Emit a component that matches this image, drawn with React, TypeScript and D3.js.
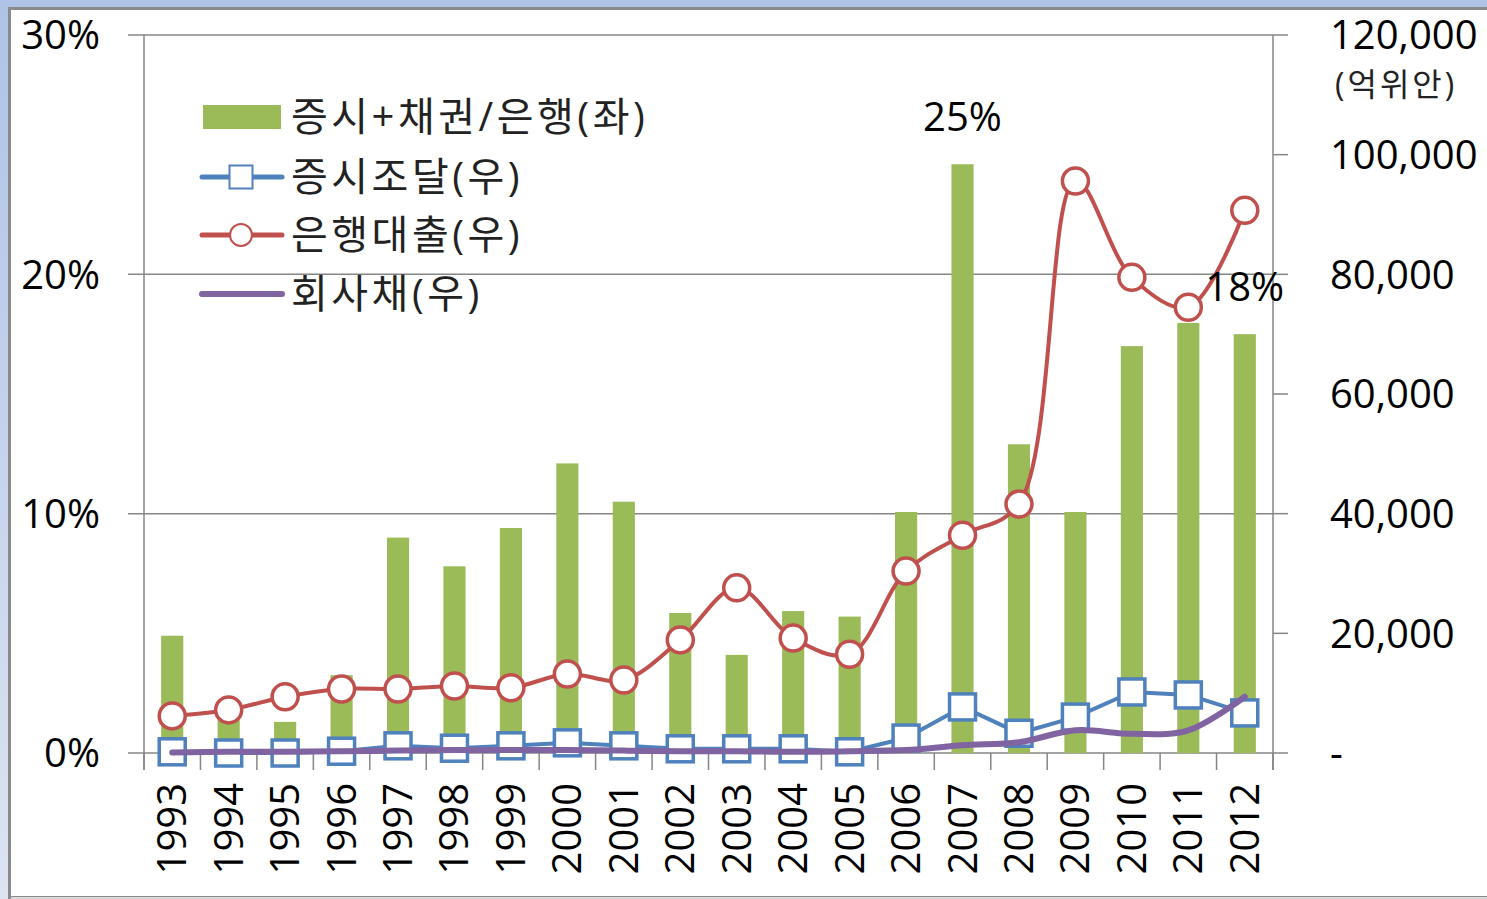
import React from 'react';
import * as d3 from 'd3';

const years = ['1993','1994','1995','1996','1997','1998','1999','2000','2001','2002','2003','2004','2005','2006','2007','2008','2009','2010','2011','2012'];
// 증시+채권/은행 (%), left axis
const ratio = [4.9, 1.6, 1.3, 3.25, 9.0, 7.8, 9.4, 12.1, 10.5, 5.85, 4.1, 5.93, 5.7, 10.07, 24.6, 12.9, 10.07, 17.0, 17.97, 17.5];
// 증시조달 (억위안), right axis
const stock = [200, 0, 0, 300, 1200, 800, 1200, 1700, 1200, 700, 700, 700, 200, 2500, 7700, 3300, 6000, 10200, 9700, 6700];
// 은행대출 (억위안), right axis
const bank = [6200, 7200, 9400, 10700, 10700, 11200, 10900, 13200, 12200, 18900, 27600, 19200, 16500, 30400, 36400, 41600, 95600, 79500, 74500, 90700];
// 회사채 (억위안), right axis
const bond = [100, 200, 200, 300, 400, 500, 500, 500, 400, 300, 300, 200, 300, 500, 1300, 1800, 3800, 3200, 3800, 9400];

const leftTicks = [0, 10, 20, 30];
const rightTicks = [0, 20000, 40000, 60000, 80000, 100000, 120000];
const labeledYears = ['2007', '2012'];
const legendLabels = ['증시+채권/은행(좌)', '증시조달(우)', '은행대출(우)', '회사채(우)'];
const unitLabel = '(억위안)';

const GREEN = '#9bbb59';
const BLUE = '#4f81bd';
const RED = '#c0504d';
const PURPLE = '#8064a2';
const GRID = '#868686';
const FONT = '"Open Sans", "Noto Sans CJK KR", sans-serif';

export default function App() {
  const W = 1487, H = 899;
  const left = 144, right = 1273, top = 35, bottom = 753;
  const x = d3.scaleBand<string>().domain(years).range([left, right]).padding(0);
  const bw = x.bandwidth();
  const cx = (y: string) => (x(y) as number) + bw / 2;
  const yL = d3.scaleLinear().domain([0, 30]).range([bottom, top]);
  const yR = d3.scaleLinear().domain([0, 120000]).range([bottom, top]);
  const barW = bw / 2.55;

  const lineLinear = d3.line<number>().x((_, i) => cx(years[i])).y(d => yR(d));
  const lineSmooth = d3.line<number>().x((_, i) => cx(years[i])).y(d => yR(d)).curve(d3.curveCatmullRom.alpha(0.5));

  const fmtR = (v: number) => (v === 0 ? '-' : d3.format(',')(v));

  const boundaries = years.map(y => x(y) as number).concat([right]);
  const legY = [117, 177, 235, 294];

  return (
    <div style={{ position: 'fixed', left: 0, top: 0, width: W, height: H }}>
      <svg width={W} height={H} style={{ display: 'block' }} fontFamily={FONT}>
        <defs>
          <linearGradient id="bg" x1="0" y1="0" x2="0" y2="1">
            <stop offset="0" stopColor="#aec3e6" />
            <stop offset="1" stopColor="#dce4f2" />
          </linearGradient>
        </defs>
        <rect x={0} y={0} width={W} height={H} fill="url(#bg)" />
        <rect x={9.5} y={8.5} width={W} height={H - 10} fill="#ffffff" stroke="#8a8a8a" strokeWidth={3} />
        <line x1={11} x2={W} y1={898} y2={898} stroke="#d9d9d9" strokeWidth={2} />

        {/* gridlines */}
        {leftTicks.map(t => (
          <line key={'g' + t} x1={left - 16} x2={right} y1={yL(t)} y2={yL(t)} stroke={GRID} strokeWidth={1.5} />
        ))}
        {/* left axis */}
        <line x1={left} x2={left} y1={top} y2={bottom + 17} stroke={GRID} strokeWidth={1.5} />
        {/* right axis */}
        <line x1={right} x2={right} y1={top} y2={bottom + 17} stroke={GRID} strokeWidth={1.5} />
        {rightTicks.map(t => (
          <line key={'rt' + t} x1={right} x2={right + 15} y1={yR(t)} y2={yR(t)} stroke={GRID} strokeWidth={1.5} />
        ))}
        {/* x ticks */}
        {boundaries.map((b, i) => (
          <line key={'xt' + i} x1={b} x2={b} y1={bottom} y2={bottom + 17} stroke={GRID} strokeWidth={1.5} />
        ))}

        {/* bars */}
        {years.map((y, i) => (
          <rect key={'b' + y} x={cx(y) - barW / 2} y={yL(ratio[i])} width={barW} height={bottom - yL(ratio[i])} fill={GREEN} />
        ))}

        {/* blue line */}
        <path d={lineLinear(stock) as string} fill="none" stroke={BLUE} strokeWidth={4} strokeLinejoin="round" />
        {years.map((y, i) => (
          <rect key={'s' + y} x={cx(y) - 13} y={yR(stock[i]) - 13} width={26} height={26} fill="#fff" stroke={BLUE} strokeWidth={3.5} />
        ))}

        {/* red line */}
        <path d={lineSmooth(bank) as string} fill="none" stroke={RED} strokeWidth={4} strokeLinejoin="round" />
        {years.map((y, i) => (
          <circle key={'c' + y} cx={cx(y)} cy={yR(bank[i])} r={13} fill="#fff" stroke={RED} strokeWidth={3.5} />
        ))}

        {/* purple line */}
        <path d={lineSmooth(bond) as string} fill="none" stroke={PURPLE} strokeWidth={6} strokeLinecap="round" strokeLinejoin="round" />

        {/* left labels */}
        {leftTicks.map(t => (
          <text key={'ll' + t} x={100} y={yL(t)} dy="0.36em" textAnchor="end" fontSize={40} fill="#000">{t + '%'}</text>
        ))}
        {/* right labels */}
        {rightTicks.map(t => (
          <text key={'rl' + t} x={1330} y={yR(t)} dy="0.36em" textAnchor="start" fontSize={40} fill="#000">{fmtR(t)}</text>
        ))}
        <text x={1335} y={84} dy="0.36em" fontSize={32} letterSpacing={3} fill="#222">{unitLabel}</text>

        {/* x labels */}
        {years.map(y => (
          <text key={'xl' + y} transform={`translate(${cx(y) + 14},783) rotate(-90)`} textAnchor="end" fontSize={40} fill="#000">{y}</text>
        ))}

        {/* data labels */}
        {years.map((y, i) => labeledYears.includes(y) ? (
          <text key={'dl' + y} x={cx(y)} y={yL(ratio[i]) - 48} dy="0.36em" textAnchor="middle" fontSize={40} fill="#000">{Math.round(ratio[i]) + '%'}</text>
        ) : null)}

        {/* legend */}
        <rect x={203} y={legY[0] - 12} width={78} height={24} fill={GREEN} />
        <line x1={202} x2={282} y1={legY[1]} y2={legY[1]} stroke={BLUE} strokeWidth={5} strokeLinecap="round" />
        <rect x={241 - 11.5} y={legY[1] - 11.5} width={23} height={23} fill="#fff" stroke={BLUE} strokeWidth={2} />
        <line x1={202} x2={282} y1={legY[2]} y2={legY[2]} stroke={RED} strokeWidth={5} strokeLinecap="round" />
        <circle cx={241} cy={legY[2]} r={11} fill="#fff" stroke={RED} strokeWidth={2} />
        <line x1={202} x2={282} y1={legY[3]} y2={legY[3]} stroke={PURPLE} strokeWidth={6} strokeLinecap="round" />
        {legendLabels.map((l, i) => (
          <text key={'lg' + i} x={291} y={legY[i]} dy="0.36em" fontSize={40} letterSpacing={3.5} fill="#222">{l}</text>
        ))}
      </svg>
    </div>
  );
}
